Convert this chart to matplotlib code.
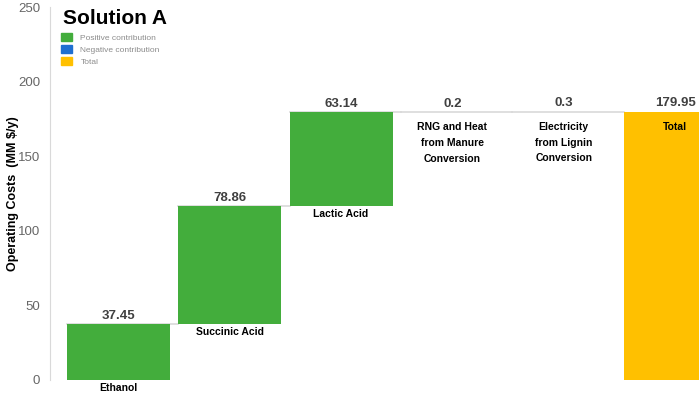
import matplotlib.pyplot as plt
from matplotlib.patches import Patch

plt.rcParams['font.family'] = ['Liberation Sans', 'DejaVu Sans']

categories = ["Ethanol", "Succinic Acid", "Lactic Acid",
              "RNG and Heat\nfrom Manure\nConversion",
              "Electricity\nfrom Lignin\nConversion"]
contributions = [37.45, 78.86, 63.14, 0.2, 0.3]
total_label = "Total"
value_labels = ["37.45", "78.86", "63.14", "0.2", "0.3"]
total_value_label = "179.95"

green = "#43ad3c"
blue = "#1f6fd1"
yellow = "#ffc000"
line_gray = "#d9d9d9"

fig = plt.figure(figsize=(6.99, 3.93), dpi=100)
ax = fig.add_axes([50 / 699, 13 / 393, 649 / 699, 373 / 393])

width = 0.925
bottoms = []
running = 0
for v in contributions:
    bottoms.append(running)
    running += v
total = running

x = list(range(len(contributions)))
ax.bar(x, contributions, bottom=bottoms, width=width, color=green, zorder=3)
ax.bar(len(contributions), total, width=width, color=yellow, zorder=3)

# connector lines
for i in range(len(contributions)):
    top = bottoms[i] + contributions[i]
    ax.plot([i - width / 2, i + 1 - width / 2], [top, top],
            color=line_gray, lw=1.2, zorder=2)

# value labels and category labels
for i in range(len(contributions)):
    top = bottoms[i] + contributions[i]
    ax.text(i, top + 1.5, value_labels[i], ha='center', va='bottom',
            fontsize=9.5, fontweight='bold', color='#404040')
    ax.text(i, bottoms[i] - 2 if contributions[i] > 1 else top - 7,
            categories[i], ha='center', va='top', fontsize=7.5,
            fontweight='bold', color='black', linespacing=1.7)

n = len(contributions)
ax.text(n, total + 1.5, total_value_label, ha='center', va='bottom',
        fontsize=9.5, fontweight='bold', color='#404040')
ax.text(n, total - 7, total_label, ha='center', va='top', fontsize=7.5,
        fontweight='bold', color='black')

ax.set_xlim(-0.615, 5.215)
ax.set_ylim(0, 250)
ax.set_yticks([0, 50, 100, 150, 200, 250])
ax.tick_params(axis='y', length=0, labelsize=9.5, labelcolor='#666666', pad=7)
ax.set_xticks([])
for s in ['top', 'right', 'bottom']:
    ax.spines[s].set_visible(False)
ax.spines['left'].set_color(line_gray)
ax.set_ylabel("Operating Costs  (MM $/y)", fontsize=9, fontweight='bold')
ax.yaxis.set_label_coords(-0.048, 0.5)

fig.text(63 / 699, 1 - 18 / 393, "Solution A", fontsize=15,
         fontweight='bold', va='center', ha='left')

handles = [Patch(color=green), Patch(color=blue), Patch(color=yellow)]
leg = fig.legend(handles, ["Positive contribution", "Negative contribution", "Total"],
                 loc='upper left', bbox_to_anchor=(53 / 699, 1 - 25 / 393),
                 frameon=False, fontsize=6, handlelength=1.4, handleheight=1.2,
                 labelspacing=0.35, handletextpad=1.0)
for t in leg.get_texts():
    t.set_color('#8c8c8c')

fig.savefig("out.png", dpi=100)
